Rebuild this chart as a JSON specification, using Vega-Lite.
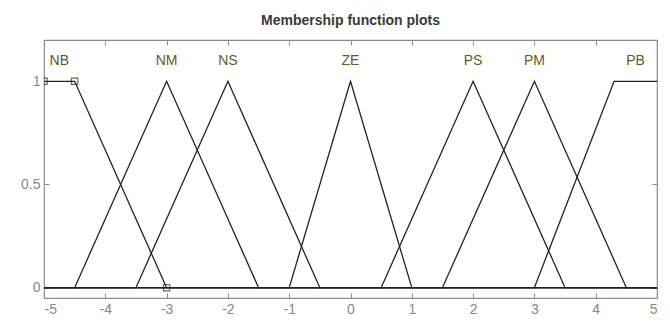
{
  "$schema": "https://vega.github.io/schema/vega-lite/v6.json",
  "autosize": "none",
  "width": 613,
  "height": 258,
  "padding": {"left": 44, "top": 40, "right": 13, "bottom": 31},
  "background": "white",
  "title": {
    "text": "Membership function plots",
    "font": "Liberation Sans",
    "fontSize": 14,
    "fontWeight": "bold",
    "color": "#3a3a3a",
    "anchor": "middle",
    "offset": 12
  },
  "config": {
    "view": {"stroke": "#8c8c8c", "strokeWidth": 1.2},
    "axis": {
      "grid": false,
      "domain": false,
      "tickColor": "#8c8c8c",
      "tickSize": -5,
      "labelColor": "#888888",
      "labelFont": "Liberation Sans",
      "labelFontSize": 14,
      "format": "~g",
      "labelExpr": "replace(datum.label, '\u2212', '-')",
      "title": null
    }
  },
  "datasets": {
    "mf": [
      {"name": "NB", "i": 0, "x": -5, "y": 1},
      {"name": "NB", "i": 1, "x": -4.5, "y": 1},
      {"name": "NB", "i": 2, "x": -3, "y": 0},
      {"name": "NB", "i": 3, "x": 5, "y": 0},
      {"name": "NM", "i": 0, "x": -5, "y": 0},
      {"name": "NM", "i": 1, "x": -4.5, "y": 0},
      {"name": "NM", "i": 2, "x": -3, "y": 1},
      {"name": "NM", "i": 3, "x": -1.5, "y": 0},
      {"name": "NM", "i": 4, "x": 5, "y": 0},
      {"name": "NS", "i": 0, "x": -5, "y": 0},
      {"name": "NS", "i": 1, "x": -3.5, "y": 0},
      {"name": "NS", "i": 2, "x": -2, "y": 1},
      {"name": "NS", "i": 3, "x": -0.5, "y": 0},
      {"name": "NS", "i": 4, "x": 5, "y": 0},
      {"name": "ZE", "i": 0, "x": -5, "y": 0},
      {"name": "ZE", "i": 1, "x": -1, "y": 0},
      {"name": "ZE", "i": 2, "x": 0, "y": 1},
      {"name": "ZE", "i": 3, "x": 1, "y": 0},
      {"name": "ZE", "i": 4, "x": 5, "y": 0},
      {"name": "PS", "i": 0, "x": -5, "y": 0},
      {"name": "PS", "i": 1, "x": 0.5, "y": 0},
      {"name": "PS", "i": 2, "x": 2, "y": 1},
      {"name": "PS", "i": 3, "x": 3.5, "y": 0},
      {"name": "PS", "i": 4, "x": 5, "y": 0},
      {"name": "PM", "i": 0, "x": -5, "y": 0},
      {"name": "PM", "i": 1, "x": 1.5, "y": 0},
      {"name": "PM", "i": 2, "x": 3, "y": 1},
      {"name": "PM", "i": 3, "x": 4.5, "y": 0},
      {"name": "PM", "i": 4, "x": 5, "y": 0},
      {"name": "PB", "i": 0, "x": -5, "y": 0},
      {"name": "PB", "i": 1, "x": 3, "y": 0},
      {"name": "PB", "i": 2, "x": 4.3, "y": 1},
      {"name": "PB", "i": 3, "x": 5, "y": 1}
    ],
    "labels": [
      {"name": "NB", "x": -4.75, "y": 1.1},
      {"name": "NM", "x": -3, "y": 1.1},
      {"name": "NS", "x": -2, "y": 1.1},
      {"name": "ZE", "x": 0, "y": 1.1},
      {"name": "PS", "x": 2, "y": 1.1},
      {"name": "PM", "x": 3, "y": 1.1},
      {"name": "PB", "x": 4.65, "y": 1.1}
    ],
    "handles": [
      {"x": -5, "y": 1},
      {"x": -4.5, "y": 1},
      {"x": -3, "y": 0}
    ]
  },
  "resolve": {"axis": {"x": "independent", "y": "independent"}},
  "layer": [
    {
      "data": {"name": "mf"},
      "mark": {"type": "line", "stroke": "#222222", "strokeWidth": 1.3, "clip": true},
      "encoding": {
        "x": {
          "field": "x", "type": "quantitative",
          "scale": {"domain": [-5, 5], "nice": false, "zero": false},
          "axis": {"orient": "bottom", "values": [-5, -4, -3, -2, -1, 0, 1, 2, 3, 4, 5], "labelPadding": 9}
        },
        "y": {
          "field": "y", "type": "quantitative",
          "scale": {"domain": [-0.05, 1.2], "nice": false, "zero": false},
          "axis": {"orient": "left", "values": [0, 0.5, 1], "labelPadding": 9}
        },
        "detail": {"field": "name"},
        "order": {"field": "i"}
      }
    },
    {
      "data": {"name": "handles"},
      "mark": {"type": "point", "shape": "square", "filled": false, "stroke": "#2b2a10", "strokeWidth": 1.2, "size": 40, "clip": true},
      "encoding": {
        "x": {
          "field": "x", "type": "quantitative",
          "scale": {"domain": [-5, 5], "nice": false, "zero": false},
          "axis": {"orient": "top", "values": [-5, -4, -3, -2, -1, 0, 1, 2, 3, 4, 5], "labels": false}
        },
        "y": {
          "field": "y", "type": "quantitative",
          "scale": {"domain": [-0.05, 1.2], "nice": false, "zero": false},
          "axis": {"orient": "right", "values": [0, 0.5, 1], "labels": false}
        }
      }
    },
    {
      "data": {"name": "labels"},
      "mark": {"type": "text", "font": "Liberation Sans", "fontSize": 14, "color": "#5f5a26", "baseline": "middle", "align": "center"},
      "encoding": {
        "x": {"field": "x", "type": "quantitative", "scale": {"domain": [-5, 5], "nice": false, "zero": false}, "axis": null},
        "y": {"field": "y", "type": "quantitative", "scale": {"domain": [-0.05, 1.2], "nice": false, "zero": false}, "axis": null},
        "text": {"field": "name"}
      }
    }
  ]
}
